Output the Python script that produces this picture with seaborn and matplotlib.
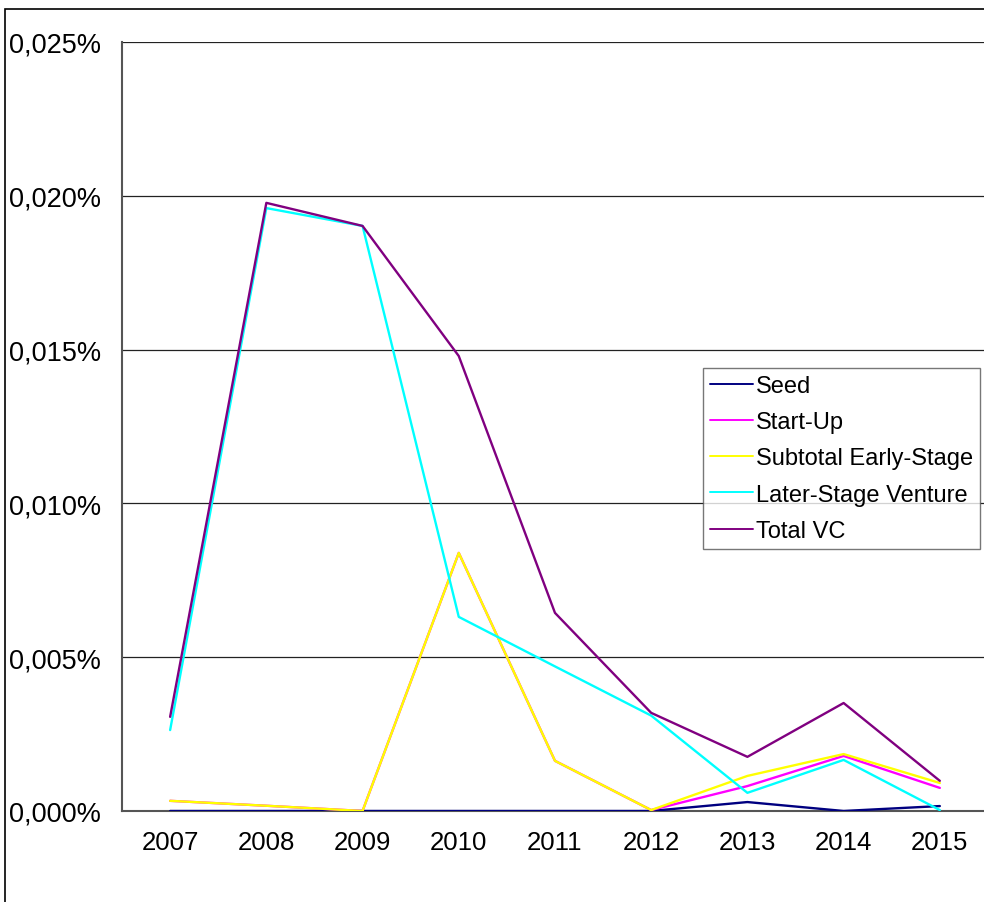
import pandas as pd
import matplotlib.pyplot as plt
import seaborn as sb
from matplotlib.ticker import FixedLocator, FuncFormatter
from matplotlib.patches import Rectangle

years = ['2007', '2008', '2009', '2010', '2011', '2012', '2013', '2014', '2015']
seed = [0.0, 0.0, 0.0, 0.0, 0.0, 0.0, 0.00029, 0.0, 0.00016]
start_up = [0.00033, 0.00017, 0.0, 0.00839, 0.00163, 0.00003, 0.00081, 0.00179, 0.00075]
subtotal_early = [0.00033, 0.00017, 0.0, 0.00839, 0.00163, 0.00003, 0.00114, 0.00185, 0.00091]
later_stage = [0.00263, 0.0196, 0.01902, 0.00631, 0.0047, 0.0031, 0.00059, 0.00166, 0.00003]
total_vc = [0.00306, 0.01977, 0.01902, 0.01479, 0.00644, 0.00319, 0.00176, 0.00351, 0.00098]

series = {'Seed': seed, 'Start-Up': start_up, 'Subtotal Early-Stage': subtotal_early,
          'Later-Stage Venture': later_stage, 'Total VC': total_vc}
colors = ['#000080', '#FF00FF', '#FFFF00', '#00FFFF', '#800080']

rows = []
for name, vals in series.items():
    for i, v in enumerate(vals):
        rows.append({'pos': i, 'value': v, 'series': name})
df = pd.DataFrame(rows)

sb.set_style('white')
plt.rcParams['font.family'] = ['Liberation Sans', 'DejaVu Sans']
plt.rcParams['text.color'] = 'black'
plt.rcParams['xtick.labelcolor'] = 'black'
plt.rcParams['ytick.labelcolor'] = 'black'

fig = plt.figure(figsize=(9.84, 9.03), dpi=100)
ax = fig.add_axes([0.124, 0.1008, 0.880, 0.8516])

sb.lineplot(data=df, x='pos', y='value', hue='series', palette=colors,
            linewidth=1.7, sort=False, ax=ax, zorder=3)

ax.set_xlim(-0.5, len(years) - 0.5)
ax.set_ylim(0, 0.025)
ax.set_yticks([0, 0.005, 0.01, 0.015, 0.02, 0.025])
ax.yaxis.set_major_formatter(FuncFormatter(lambda v, p: f'{v:.3f}%'.replace('.', ',')))
ax.set_xticks(range(len(years)))
ax.set_xticklabels(years)
ax.xaxis.set_minor_locator(FixedLocator([i - 0.5 for i in range(len(years) + 1)]))
ax.tick_params(axis='x', which='major', length=0, pad=14, labelsize=18.5, labelcolor='black')
ax.tick_params(axis='x', which='minor', length=7, width=1.2, color='#555555', direction='out')
ax.tick_params(axis='y', length=7, width=1.2, color='#555555', direction='out', pad=8,
               labelsize=19.5, labelcolor='black')
ax.set_xlabel('')
ax.set_ylabel('')

ax.grid(axis='y', color='#222222', linewidth=0.9, zorder=1)
ax.set_axisbelow(True)
for s in ['top', 'right']:
    ax.spines[s].set_visible(False)
for s in ['left', 'bottom']:
    ax.spines[s].set_color('#555555')
    ax.spines[s].set_linewidth(1.5)

leg = ax.legend(loc='upper left', bbox_to_anchor=(0.671, 0.576), fontsize=17,
                frameon=True, fancybox=False, shadow=False, handlelength=1.8,
                handletextpad=0.15, labelspacing=0.6, borderpad=0.3,
                borderaxespad=0, title=None)
leg.get_frame().set_edgecolor('#555555')
leg.get_frame().set_linewidth(1.0)
for line in leg.get_lines():
    line.set_linewidth(1.4)
for t in leg.get_texts():
    t.set_color('black')

# outer chart frame
fig.patches.append(Rectangle((0.005, -0.1), 1.2, 1.089, transform=fig.transFigure,
                             fill=False, edgecolor='black', linewidth=1.2))

fig.savefig('out.png', dpi=100)
